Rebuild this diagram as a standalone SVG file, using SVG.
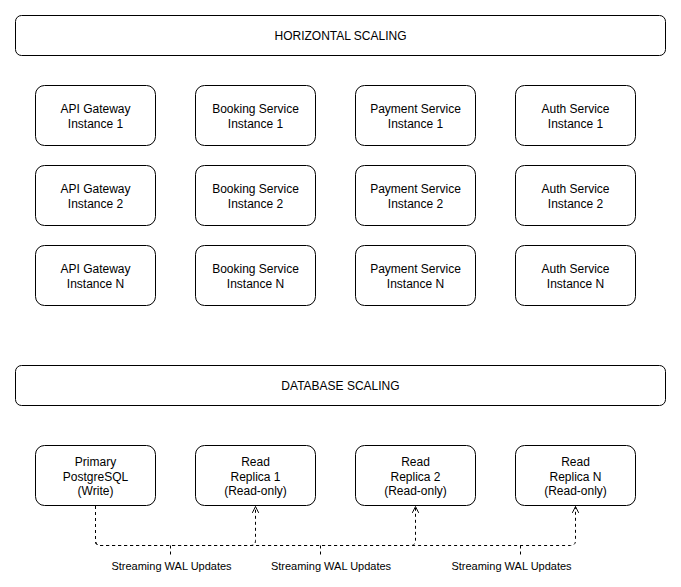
<svg xmlns="http://www.w3.org/2000/svg" width="681" height="587" viewBox="0 0 681 587">
  <defs>
    <marker id="open-arrow" viewBox="0 0 10 10" refX="9" refY="5" markerWidth="8" markerHeight="8" markerUnits="userSpaceOnUse" orient="auto">
      <path d="M1,1 L9,5 L1,9" fill="none" stroke="#000" stroke-width="1.2"/>
    </marker>
  </defs>
  <style>
    .banner { fill: #fff; stroke: #000; stroke-width: 1; }
    .node { fill: #fff; stroke: #000; stroke-width: 1; }
    .lbl { font-family: "Liberation Sans", Arial, sans-serif; font-size: 12px; fill: #000; text-anchor: middle; }
    .elbl { font-family: "Liberation Sans", Arial, sans-serif; font-size: 11px; fill: #000; text-anchor: middle; }
    .edge { fill: none; stroke: #000; stroke-width: 1; stroke-dasharray: 3 3; }
  </style>
  <rect width="681" height="587" fill="#fff"/>

  <!-- Section headers -->
  <g id="horizontal-scaling">
    <rect class="banner" x="15.5" y="15.5" width="650" height="40" rx="6"/>
    <text class="lbl" x="340.5" y="40">HORIZONTAL SCALING</text>
  </g>
  <g id="database-scaling">
    <rect class="banner" x="15.5" y="365.5" width="650" height="40" rx="6"/>
    <text class="lbl" x="340.5" y="390">DATABASE SCALING</text>
  </g>

  <!-- Service instances -->
  <g id="api-gw-1"><rect class="node" x="35.5" y="85.5" width="120" height="60" rx="9"/>
    <text class="lbl" x="95.5" y="113">API Gateway</text><text class="lbl" x="95.5" y="128">Instance 1</text></g>
  <g id="booking-1"><rect class="node" x="195.5" y="85.5" width="120" height="60" rx="9"/>
    <text class="lbl" x="255.5" y="113">Booking Service</text><text class="lbl" x="255.5" y="128">Instance 1</text></g>
  <g id="payment-1"><rect class="node" x="355.5" y="85.5" width="120" height="60" rx="9"/>
    <text class="lbl" x="415.5" y="113">Payment Service</text><text class="lbl" x="415.5" y="128">Instance 1</text></g>
  <g id="auth-1"><rect class="node" x="515.5" y="85.5" width="120" height="60" rx="9"/>
    <text class="lbl" x="575.5" y="113">Auth Service</text><text class="lbl" x="575.5" y="128">Instance 1</text></g>

  <g id="api-gw-2"><rect class="node" x="35.5" y="165.5" width="120" height="60" rx="9"/>
    <text class="lbl" x="95.5" y="193">API Gateway</text><text class="lbl" x="95.5" y="208">Instance 2</text></g>
  <g id="booking-2"><rect class="node" x="195.5" y="165.5" width="120" height="60" rx="9"/>
    <text class="lbl" x="255.5" y="193">Booking Service</text><text class="lbl" x="255.5" y="208">Instance 2</text></g>
  <g id="payment-2"><rect class="node" x="355.5" y="165.5" width="120" height="60" rx="9"/>
    <text class="lbl" x="415.5" y="193">Payment Service</text><text class="lbl" x="415.5" y="208">Instance 2</text></g>
  <g id="auth-2"><rect class="node" x="515.5" y="165.5" width="120" height="60" rx="9"/>
    <text class="lbl" x="575.5" y="193">Auth Service</text><text class="lbl" x="575.5" y="208">Instance 2</text></g>

  <g id="api-gw-n"><rect class="node" x="35.5" y="245.5" width="120" height="60" rx="9"/>
    <text class="lbl" x="95.5" y="273">API Gateway</text><text class="lbl" x="95.5" y="288">Instance N</text></g>
  <g id="booking-n"><rect class="node" x="195.5" y="245.5" width="120" height="60" rx="9"/>
    <text class="lbl" x="255.5" y="273">Booking Service</text><text class="lbl" x="255.5" y="288">Instance N</text></g>
  <g id="payment-n"><rect class="node" x="355.5" y="245.5" width="120" height="60" rx="9"/>
    <text class="lbl" x="415.5" y="273">Payment Service</text><text class="lbl" x="415.5" y="288">Instance N</text></g>
  <g id="auth-n"><rect class="node" x="515.5" y="245.5" width="120" height="60" rx="9"/>
    <text class="lbl" x="575.5" y="273">Auth Service</text><text class="lbl" x="575.5" y="288">Instance N</text></g>

  <!-- Database nodes -->
  <g id="primary-db"><rect class="node" x="35.5" y="445.5" width="120" height="60" rx="9"/>
    <text class="lbl" x="95.5" y="466">Primary</text><text class="lbl" x="95.5" y="480.5">PostgreSQL</text><text class="lbl" x="95.5" y="495">(Write)</text></g>
  <g id="replica-1"><rect class="node" x="195.5" y="445.5" width="120" height="60" rx="9"/>
    <text class="lbl" x="255.5" y="466">Read</text><text class="lbl" x="255.5" y="480.5">Replica 1</text><text class="lbl" x="255.5" y="495">(Read-only)</text></g>
  <g id="replica-2"><rect class="node" x="355.5" y="445.5" width="120" height="60" rx="9"/>
    <text class="lbl" x="415.5" y="466">Read</text><text class="lbl" x="415.5" y="480.5">Replica 2</text><text class="lbl" x="415.5" y="495">(Read-only)</text></g>
  <g id="replica-n"><rect class="node" x="515.5" y="445.5" width="120" height="60" rx="9"/>
    <text class="lbl" x="575.5" y="466">Read</text><text class="lbl" x="575.5" y="480.5">Replica N</text><text class="lbl" x="575.5" y="495">(Read-only)</text></g>

  <!-- Replication connectors -->
  <g id="connectors">
    <path class="edge" marker-end="url(#open-arrow)" d="M95.5,506 V540.5 Q95.5,545.5 100.5,545.5 H250.5 Q255.5,545.5 255.5,540.5 V506.5"/>
    <path class="edge" marker-end="url(#open-arrow)" d="M95.5,506 V540.5 Q95.5,545.5 100.5,545.5 H410.5 Q415.5,545.5 415.5,540.5 V506.5"/>
    <path class="edge" marker-end="url(#open-arrow)" d="M95.5,506 V540.5 Q95.5,545.5 100.5,545.5 H570.5 Q575.5,545.5 575.5,540.5 V506.5"/>
    <path class="edge" d="M170.5,545.5 V557"/>
    <path class="edge" d="M320.5,545.5 V557"/>
    <path class="edge" d="M520.5,545.5 V557"/>
    <text class="elbl" x="171.5" y="570">Streaming WAL Updates</text>
    <text class="elbl" x="331" y="570">Streaming WAL Updates</text>
    <text class="elbl" x="511.5" y="570">Streaming WAL Updates</text>
  </g>
</svg>
